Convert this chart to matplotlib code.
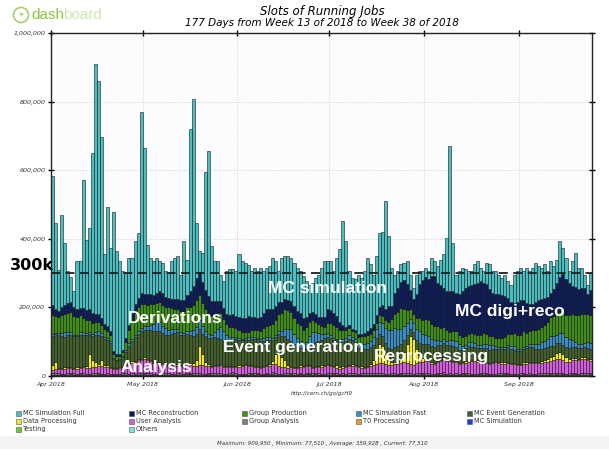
import numpy as np
import pandas as pd
import matplotlib
matplotlib.use("Agg")
import matplotlib.pyplot as plt
from matplotlib.patches import Rectangle, Ellipse

# =====================================================
# 1. DATA  (thousands of running job slots per day)
# =====================================================

days = pd.date_range("2018-04-01", periods=177, freq="D")

# total height of each daily bar
slots_total = [
    583, 447, 309, 469, 389, 306, 290, 248, 335, 335,
    571, 396, 433, 652, 910, 861, 697, 355, 494, 374,
    479, 364, 335, 306, 300, 345, 345, 393, 418, 770,
    665, 383, 345, 335, 345, 335, 330, 306, 300, 335,
    345, 350, 296, 393, 340, 720, 808, 447, 364, 360,
    595, 656, 380, 335, 335, 296, 277, 306, 313, 313,
    306, 355, 335, 330, 325, 306, 315, 306, 315, 306,
    315, 320, 345, 335, 306, 345, 350, 350, 345, 330,
    315, 306, 292, 277, 267, 272, 285, 296, 315, 335,
    335, 335, 306, 345, 370, 452, 393, 306, 286, 282,
    296, 286, 306, 345, 326, 296, 350, 418, 420, 510,
    408, 315, 296, 306, 326, 330, 335, 296, 258, 296,
    306, 306, 315, 306, 345, 335, 320, 340, 355, 403,
    672, 389, 296, 306, 315, 311, 306, 306, 326, 335,
    315, 306, 330, 326, 306, 306, 296, 286, 296, 277,
    267, 296, 306, 315, 306, 315, 306, 315, 330, 320,
    315, 326, 306, 335, 320, 340, 393, 374, 345, 306,
    335, 360, 315, 315, 296, 267, 300,
]

mc_reco = [
    30, 20, 18, 22, 25, 28, 30, 26, 24, 22,
    30, 28, 32, 30, 25, 22, 18, 15, 14, 12,
    8, 6, 5, 6, 10, 15, 20, 25, 28, 30,
    30, 32, 28, 26, 30, 32, 34, 30, 28, 26,
    28, 30, 32, 30, 35, 45, 55, 65, 70, 60,
    55, 50, 45, 40, 38, 35, 32, 30, 35, 40,
    35, 38, 40, 42, 45, 40, 38, 35, 40, 45,
    50, 48, 45, 40, 35, 30, 28, 30, 32, 35,
    35, 35, 35, 30, 28, 25, 22, 22, 25, 30,
    40, 38, 35, 32, 25, 15, 10, 8, 6, 8,
    8, 8, 10, 12, 15, 18, 22, 25, 30, 35,
    45, 40, 60, 70, 75, 85, 75, 55, 45, 70,
    100, 115, 125, 120, 140, 145, 125, 125, 115, 115,
    120, 115, 110, 120, 135, 140, 140, 140, 145, 149,
    156, 146, 145, 136, 127, 127, 127, 123, 118, 105,
    94, 89, 97, 101, 92, 88, 78, 77, 83, 87,
    84, 81, 73, 69, 79, 89, 102, 109, 104, 93,
    83, 80, 76, 77, 74, 60, 74,
]

group_prod = [
    55, 50, 48, 52, 55, 58, 60, 55, 52, 50,
    40, 38, 35, 32, 30, 28, 25, 22, 20, 18,
    12, 10, 10, 12, 25, 40, 55, 65, 70, 72,
    65, 62, 60, 58, 55, 58, 60, 62, 65, 62,
    60, 58, 62, 66, 70, 72, 75, 78, 72, 68,
    65, 60, 55, 50, 45, 40, 35, 32, 30, 28,
    25, 22, 20, 18, 15, 18, 20, 22, 25, 28,
    30, 35, 40, 45, 50, 55, 60, 55, 50, 45,
    45, 48, 50, 45, 40, 35, 30, 25, 22, 20,
    30, 35, 38, 35, 30, 25, 22, 20, 18, 20,
    22, 22, 24, 24, 22, 20, 18, 18, 20, 22,
    25, 30, 40, 50, 60, 50, 40, 30, 25, 30,
    38, 40, 45, 45, 45, 42, 40, 38, 35, 32,
    25, 28, 30, 28, 26, 25, 24, 26, 28, 30,
    30, 32, 30, 28, 26, 24, 26, 28, 30, 32,
    35, 38, 40, 42, 45, 38, 38, 40, 42, 42,
    44, 46, 50, 55, 60, 62, 62, 62, 65, 70,
    75, 80, 85, 88, 85, 82, 80,
]

sim_fast = [
    5, 4, 6, 10, 12, 8, 6, 5, 4, 6,
    8, 6, 5, 4, 6, 10, 8, 6, 5, 4,
    3, 2, 3, 4, 6, 8, 5, 4, 6, 8,
    10, 12, 15, 20, 25, 28, 22, 18, 15, 12,
    10, 8, 6, 5, 8, 10, 15, 20, 25, 22,
    15, 12, 10, 15, 25, 35, 30, 20, 12, 8,
    6, 5, 4, 6, 8, 6, 5, 4, 6, 8,
    10, 8, 6, 5, 8, 12, 20, 30, 35, 30,
    25, 20, 15, 20, 30, 35, 30, 25, 18, 12,
    10, 8, 6, 5, 6, 8, 10, 12, 10, 8,
    10, 12, 14, 16, 18, 22, 28, 35, 40, 45,
    50, 55, 55, 50, 45, 40, 35, 30, 28, 32,
    35, 32, 28, 25, 20, 18, 15, 12, 10, 12,
    14, 16, 18, 15, 12, 10, 12, 14, 12, 10,
    8, 10, 12, 14, 12, 10, 8, 6, 5, 6,
    8, 10, 8, 6, 5, 6, 8, 10, 12, 15,
    18, 20, 25, 30, 28, 25, 30, 35, 30, 25,
    20, 15, 12, 10, 12, 15, 18,
]

evgen = [
    85, 80, 95, 92, 90, 94, 96, 92, 90, 95,
    92, 90, 60, 70, 80, 85, 70, 78, 75, 70,
    25, 22, 20, 24, 35, 50, 60, 70, 75, 80,
    80, 85, 88, 90, 92, 90, 88, 85, 88, 90,
    92, 95, 90, 88, 85, 82, 80, 75, 50, 60,
    75, 78, 80, 82, 78, 75, 72, 70, 74, 76,
    78, 75, 72, 70, 74, 76, 78, 80, 76, 74,
    72, 70, 60, 50, 55, 62, 70, 75, 72, 68,
    60, 50, 40, 45, 55, 65, 70, 72, 75, 78,
    80, 78, 75, 72, 70, 72, 74, 76, 70, 68,
    55, 54, 52, 50, 48, 45, 40, 32, 28, 30,
    35, 40, 45, 48, 45, 35, 25, 20, 20, 28,
    35, 40, 42, 45, 48, 48, 46, 44, 42, 40,
    42, 44, 40, 38, 36, 38, 40, 38, 36, 35,
    36, 38, 40, 38, 36, 34, 36, 38, 40, 42,
    40, 38, 36, 38, 40, 42, 44, 42, 40, 38,
    36, 35, 34, 32, 30, 28, 26, 28, 30, 32,
    34, 32, 30, 28, 30, 32, 30,
]

data_proc = [
    15, 22, 5, 4, 6, 3, 3, 4, 5, 3,
    4, 8, 40, 22, 15, 6, 18, 5, 4, 3,
    3, 2, 3, 4, 3, 4, 5, 4, 3, 3,
    4, 3, 3, 2, 3, 4, 3, 3, 2, 3,
    3, 4, 3, 3, 4, 5, 8, 20, 55, 30,
    12, 6, 4, 3, 3, 2, 3, 4, 3, 3,
    3, 4, 3, 3, 2, 3, 4, 3, 3, 4,
    5, 6, 10, 30, 40, 30, 20, 8, 4, 3,
    3, 4, 3, 3, 4, 3, 3, 4, 5, 4,
    3, 4, 5, 10, 6, 4, 3, 3, 4, 3,
    3, 4, 3, 5, 8, 15, 35, 55, 50, 30,
    15, 8, 6, 5, 10, 30, 55, 80, 75, 40,
    20, 10, 6, 5, 4, 3, 4, 3, 4, 5,
    4, 3, 4, 3, 3, 4, 5, 4, 3, 4,
    3, 4, 3, 3, 4, 3, 3, 4, 5, 4,
    3, 4, 3, 3, 4, 5, 4, 3, 3, 4,
    5, 6, 8, 10, 12, 18, 20, 15, 12, 8,
    6, 5, 4, 5, 6, 5, 4,
]

user_ana = [
    10, 12, 11, 13, 12, 14, 13, 12, 15, 14,
    16, 15, 17, 18, 16, 20, 22, 19, 18, 17,
    15, 14, 16, 18, 22, 26, 30, 34, 38, 40,
    42, 38, 36, 32, 30, 28, 26, 24, 22, 25,
    24, 22, 20, 22, 25, 24, 22, 20, 24, 26,
    22, 20, 18, 20, 22, 24, 20, 18, 17, 16,
    18, 20, 22, 24, 22, 20, 16, 15, 16, 18,
    20, 22, 24, 26, 22, 20, 18, 16, 15, 14,
    16, 18, 20, 22, 18, 16, 15, 17, 20, 22,
    24, 20, 16, 14, 15, 16, 18, 20, 22, 20,
    18, 16, 15, 17, 20, 22, 26, 28, 30, 28,
    26, 24, 26, 28, 30, 32, 30, 28, 26, 30,
    32, 34, 36, 34, 30, 28, 32, 36, 40, 38,
    36, 34, 32, 30, 28, 30, 34, 36, 38, 36,
    34, 32, 30, 28, 32, 34, 30, 28, 26, 28,
    30, 28, 26, 24, 26, 28, 30, 32, 30, 28,
    30, 32, 34, 36, 38, 40, 42, 38, 36, 34,
    36, 38, 40, 42, 40, 38, 36,
]

group_ana = [
    4, 5, 4, 3, 4, 5, 4, 4, 3, 4,
    5, 4, 4, 5, 6, 4, 3, 4, 5, 4,
    3, 3, 4, 4, 5, 4, 4, 3, 4, 5,
    4, 4, 5, 4, 3, 4, 4, 5, 4, 3,
    4, 5, 4, 4, 3, 4, 5, 6, 5, 4,
    4, 3, 4, 4, 5, 4, 4, 3, 4, 4,
    5, 4, 3, 4, 4, 5, 6, 5, 4, 4,
    3, 4, 5, 4, 4, 3, 4, 5, 4, 4,
    5, 4, 4, 3, 4, 4, 5, 4, 3, 4,
    4, 5, 4, 4, 3, 4, 4, 5, 4, 4,
    3, 4, 5, 4, 4, 5, 6, 5, 4, 3,
    4, 4, 5, 4, 3, 4, 5, 4, 4, 5,
    4, 3, 4, 5, 4, 4, 3, 4, 5, 4,
    4, 5, 4, 3, 4, 4, 5, 4, 4, 3,
    4, 5, 4, 4, 3, 4, 5, 4, 4, 5,
    4, 3, 4, 4, 5, 4, 4, 3, 4, 5,
    5, 6, 5, 4, 4, 5, 6, 5, 4, 4,
    5, 4, 4, 5, 6, 5, 4,
]

t0_proc = [
    2, 1, 2, 2, 1, 2, 3, 2, 1, 2,
    2, 2, 1, 2, 3, 2, 2, 1, 2, 2,
    1, 2, 2, 1, 2, 2, 3, 2, 2, 1,
    2, 2, 1, 2, 2, 3, 2, 1, 2, 2,
    2, 1, 2, 2, 3, 2, 2, 1, 2, 2,
    1, 2, 2, 3, 2, 2, 1, 2, 2, 4,
    3, 2, 2, 1, 2, 2, 3, 2, 2, 1,
    2, 2, 3, 2, 1, 2, 2, 2, 3, 2,
    1, 2, 2, 3, 4, 3, 2, 2, 1, 2,
    2, 3, 2, 2, 1, 2, 2, 3, 2, 2,
    1, 2, 2, 3, 2, 2, 1, 2, 2, 2,
    3, 2, 2, 1, 2, 2, 3, 2, 2, 1,
    2, 2, 3, 2, 1, 2, 2, 2, 3, 2,
    2, 1, 2, 2, 3, 2, 2, 1, 2, 2,
    3, 2, 2, 1, 2, 2, 2, 3, 2, 2,
    1, 2, 2, 3, 2, 2, 1, 2, 2, 3,
    2, 2, 1, 2, 3, 2, 2, 2, 1, 2,
    2, 3, 2, 2, 1, 2, 2,
]

mc_sim = [
    1, 1, 2, 1, 1, 0, 1, 1, 1, 2,
    1, 1, 0, 1, 1, 2, 1, 1, 1, 0,
    1, 1, 1, 2, 1, 1, 0, 1, 1, 1,
    2, 1, 1, 0, 1, 1, 1, 2, 1, 1,
    0, 1, 1, 1, 2, 1, 1, 0, 1, 1,
    1, 2, 1, 1, 0, 1, 1, 1, 2, 1,
    1, 0, 1, 1, 1, 2, 1, 1, 0, 1,
    1, 1, 2, 1, 1, 0, 1, 1, 1, 2,
    1, 1, 0, 1, 1, 1, 2, 1, 1, 0,
    1, 1, 1, 2, 1, 1, 0, 1, 1, 1,
    2, 1, 1, 0, 1, 1, 1, 2, 1, 1,
    0, 1, 1, 1, 2, 1, 1, 0, 1, 1,
    1, 2, 1, 1, 0, 1, 1, 1, 2, 1,
    1, 0, 1, 1, 1, 2, 1, 1, 0, 1,
    1, 1, 2, 1, 1, 0, 1, 1, 1, 2,
    1, 1, 0, 1, 1, 1, 2, 1, 1, 0,
    1, 1, 1, 2, 1, 1, 0, 1, 1, 1,
    2, 1, 1, 0, 1, 1, 1,
]

testing = [
    0, 1, 0, 0, 1, 0, 1, 0, 0, 1,
    0, 0, 1, 0, 0, 1, 0, 1, 0, 0,
    1, 0, 0, 1, 0, 0, 1, 0, 1, 0,
    0, 1, 0, 0, 1, 0, 0, 1, 0, 0,
    1, 0, 1, 0, 0, 1, 0, 0, 1, 0,
    0, 1, 0, 0, 1, 0, 1, 0, 0, 1,
    0, 0, 1, 0, 0, 1, 0, 1, 0, 0,
    1, 0, 0, 1, 0, 0, 1, 0, 1, 0,
    0, 1, 0, 0, 1, 0, 0, 1, 0, 0,
    1, 0, 1, 0, 0, 1, 0, 0, 1, 0,
    0, 1, 0, 0, 1, 0, 1, 0, 0, 1,
    0, 0, 1, 0, 0, 1, 0, 1, 0, 0,
    1, 0, 0, 1, 0, 0, 1, 0, 1, 0,
    0, 1, 0, 0, 1, 0, 0, 1, 0, 0,
    1, 0, 1, 0, 0, 1, 0, 0, 1, 0,
    0, 1, 0, 0, 1, 0, 1, 0, 0, 1,
    0, 0, 1, 0, 0, 1, 0, 1, 0, 0,
    1, 0, 0, 1, 0, 0, 1,
]

others = [
    1, 0, 0, 1, 0, 1, 0, 1, 1, 0,
    1, 0, 1, 0, 0, 0, 1, 0, 1, 1,
    0, 1, 0, 0, 1, 0, 0, 1, 0, 1,
    1, 0, 1, 1, 0, 0, 1, 0, 1, 0,
    0, 1, 0, 0, 1, 1, 0, 1, 0, 0,
    1, 0, 1, 0, 0, 1, 0, 1, 0, 1,
    0, 1, 0, 1, 1, 0, 0, 1, 0, 1,
    1, 0, 1, 0, 0, 1, 0, 0, 1, 0,
    0, 1, 0, 1, 0, 0, 1, 0, 1, 1,
    0, 0, 1, 0, 1, 0, 1, 0, 0, 1,
    1, 0, 0, 1, 0, 1, 0, 0, 1, 0,
    0, 1, 0, 1, 1, 0, 0, 1, 0, 1,
    0, 1, 0, 0, 1, 0, 1, 1, 0, 0,
    1, 0, 1, 0, 0, 1, 0, 0, 1, 0,
    0, 1, 0, 1, 0, 0, 1, 0, 1, 1,
    0, 0, 1, 0, 1, 0, 0, 1, 0, 0,
    1, 0, 0, 1, 0, 1, 0, 1, 0, 1,
    0, 1, 0, 0, 1, 0, 1,
]

# =====================================================
# 2. BUILD STACK (bottom to top)
# =====================================================

lower = [
    ("Others", others, "#7fe3e6"),
    ("Testing", testing, "#66cc33"),
    ("MC Simulation", mc_sim, "#1f3fdc"),
    ("T0 Processing", t0_proc, "#e89a2c"),
    ("Group Analysis", group_ana, "#7d7d7d"),
    ("User Analysis", user_ana, "#d35ce0"),
    ("Data Processing", data_proc, "#f4ea22"),
    ("MC Event Generation", evgen, "#435f2b"),
    ("MC Simulation Fast", sim_fast, "#3a8dc2"),
    ("Group Production", group_prod, "#3f8f14"),
    ("MC Reconstruction", mc_reco, "#0b1b5a"),
]
below_sum = np.sum([np.array(v) for _, v, _ in lower], axis=0)
# top layer is whatever remains of the bar height
sim_full = np.array(slots_total) - below_sum
layers = lower + [("MC Simulation Full", sim_full, "#4abfc1")]
colors = {name: c for name, _, c in layers}

# =====================================================
# 3. FIGURE
# =====================================================

fig = plt.figure(figsize=(6.09, 4.49), dpi=100, facecolor="white")
W, H = 609.0, 449.0
ax = fig.add_axes([51 / W, 1 - 376 / H, 541 / W, 342.6 / H])
ax.set_facecolor("#fcfcfe")

bottom = np.zeros(len(days))
for name, vals, col in layers:
    v = np.array(vals, dtype=float) * 1000
    ax.bar(days, v, width=1.0, bottom=bottom, align="edge", color=col,
           edgecolor="#161616", linewidth=0.4, zorder=2)
    bottom += v

ax.axhline(300000, color="#1e1e1e", linestyle=(0, (5, 3)), linewidth=1.3, zorder=4)

ax.set_xlim(days[0], days[-1] + pd.Timedelta(days=1))
ax.set_ylim(0, 1000000)

month_starts = pd.date_range("2018-04-01", "2018-09-01", freq="MS")
ax.set_xticks(month_starts)
ax.set_xticklabels([d.strftime("%b %Y") for d in month_starts],
                   fontstyle="italic", fontsize=4.5, color="#333333")
yt = [0, 200000, 400000, 600000, 800000, 1000000]
ax.set_yticks(yt)
ax.set_yticklabels([f"{v:,}" for v in yt], fontstyle="italic", fontsize=4.5,
                   color="#333333")
ax.tick_params(direction="inout", length=4, width=1.0, top=True, right=True,
               labeltop=False, labelright=False, pad=2)
ax.grid(True, linestyle=":", color="#c8c8c8", linewidth=0.6, zorder=0)
ax.set_axisbelow(True)
for s in ax.spines.values():
    s.set_linewidth(1.0)
    s.set_color("#222222")

# annotations on the plot
lab_kw = dict(transform=ax.transAxes, color="white", fontsize=12.5,
              fontweight="bold", family="Liberation Sans", ha="center",
              va="center", zorder=6)
ax.text(0.512, 0.254, "MC simulation", **lab_kw)
ax.text(0.229, 0.169, "Derivations", **lab_kw)
ax.text(0.848, 0.187, "MC digi+reco", **lab_kw)
ax.text(0.449, 0.082, "Event generation", **lab_kw)
ax.text(0.194, 0.026, "Analysis", **lab_kw)
ax.text(0.704, 0.058, "Reprocessing", **lab_kw)

fig.text(32 / W, 1 - 265 / H, "300k", fontsize=11.5, fontweight="bold",
         ha="center", va="center", color="black")

# titles
fig.text(322 / W, 1 - 12 / H, "Slots of Running Jobs", fontsize=8.5,
         fontstyle="italic", ha="center", va="center")
fig.text(322 / W, 1 - 23 / H, "177 Days from Week 13 of 2018 to Week 38 of 2018",
         fontsize=7.5, fontstyle="italic", ha="center", va="center")

# dashboard logo
fig.add_artist(Ellipse((21 / W, 1 - 15 / H), 15 / W, 15 / H, facecolor="none",
                       edgecolor="#a6cf6e", linewidth=1.2))
fig.text(21 / W, 1 - 15 / H, "\u2736", fontsize=6, color="#a6cf6e",
         ha="center", va="center")
fig.text(31 / W, 1 - 15 / H, "dash", fontsize=11, color="#8cc63f",
         ha="left", va="center", family="Liberation Sans")
fig.text(63 / W, 1 - 15 / H, "board", fontsize=11, color="#cfe6b2",
         ha="left", va="center", family="Liberation Sans")

fig.text(322 / W, 1 - 393 / H, "http://cern.ch/go/gcH9", fontsize=4,
         fontstyle="italic", ha="center", va="center", color="#333333")

# legend (row-major, as on the dashboard)
legend_rows = [
    ["MC Simulation Full", "MC Reconstruction", "Group Production",
     "MC Simulation Fast", "MC Event Generation"],
    ["Data Processing", "User Analysis", "Group Analysis", "T0 Processing",
     "MC Simulation"],
    ["Testing", "Others"],
]
col_x = [16, 129, 242, 356, 467]
row_y = [413, 421, 429]
for r, row in enumerate(legend_rows):
    for c, name in enumerate(row):
        x0, y0 = col_x[c], row_y[r]
        fig.add_artist(Rectangle((x0 / W, 1 - (y0 + 2.5) / H), 5 / W, 5 / H,
                                 facecolor=colors[name], edgecolor="#555555",
                                 linewidth=0.4, transform=fig.transFigure))
        fig.text((x0 + 7) / W, 1 - y0 / H, name, fontsize=4.8,
                 ha="left", va="center", color="#333333")

fig.add_artist(Rectangle((0, 0), 1, 13 / H, facecolor="#f3f3f3",
                         edgecolor="none", transform=fig.transFigure, zorder=0))
fig.text(322 / W, 1 - 443 / H,
         "Maximum: 909,950 , Minimum: 77,510 , Average: 359,928 , Current: 77,510",
         fontsize=4, fontstyle="italic", ha="center", va="center", color="#333333")

fig.savefig("out.png", dpi=100)
